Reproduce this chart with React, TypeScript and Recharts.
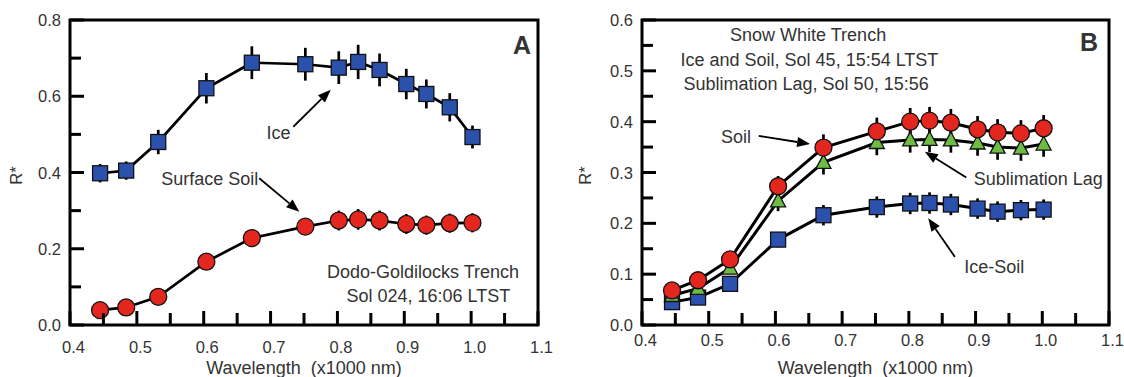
import React from 'react';
import {
  ComposedChart,
  Line,
  XAxis,
  YAxis,
  ErrorBar,
  ReferenceLine,
  ReferenceDot,
} from 'recharts';

// filter wavelengths (x1000 nm), shared by both panels
const wavelengths = [0.445, 0.484, 0.532, 0.604, 0.672, 0.752, 0.802, 0.831, 0.863, 0.903, 0.933, 0.968, 1.002];

// panel A - Dodo-Goldilocks
const iceA = [0.398, 0.405, 0.48, 0.621, 0.688, 0.684, 0.675, 0.69, 0.669, 0.632, 0.606, 0.571, 0.493];
const iceAErr = [0.024, 0.024, 0.032, 0.04, 0.043, 0.043, 0.043, 0.045, 0.043, 0.04, 0.038, 0.037, 0.03];
const soilA = [0.039, 0.046, 0.074, 0.166, 0.228, 0.258, 0.274, 0.277, 0.274, 0.265, 0.262, 0.267, 0.268];
const soilAErr = [0.01, 0.01, 0.012, 0.015, 0.018, 0.022, 0.026, 0.027, 0.026, 0.026, 0.025, 0.025, 0.025];

// panel B - Snow White
const soilB = [0.068, 0.088, 0.129, 0.273, 0.349, 0.381, 0.4, 0.402, 0.398, 0.385, 0.379, 0.377, 0.387];
const soilBErr = [0.008, 0.01, 0.012, 0.02, 0.026, 0.027, 0.027, 0.027, 0.027, 0.026, 0.026, 0.026, 0.026];
const lagB = [0.058, 0.072, 0.112, 0.244, 0.32, 0.359, 0.364, 0.365, 0.364, 0.358, 0.35, 0.348, 0.356];
const lagBErr = [0.008, 0.01, 0.012, 0.02, 0.024, 0.025, 0.025, 0.025, 0.025, 0.025, 0.025, 0.025, 0.025];
const iceSoilB = [0.045, 0.054, 0.081, 0.168, 0.216, 0.232, 0.239, 0.24, 0.237, 0.229, 0.223, 0.226, 0.227];
const iceSoilBErr = [0.005, 0.007, 0.01, 0.015, 0.02, 0.021, 0.021, 0.021, 0.021, 0.02, 0.02, 0.02, 0.02];

const xTicks = [0.4, 0.45, 0.5, 0.55, 0.6, 0.65, 0.7, 0.75, 0.8, 0.85, 0.9, 0.95, 1.0, 1.05, 1.1];
const xLabels = [0.4, 0.5, 0.6, 0.7, 0.8, 0.9, 1.0, 1.1];
const yTicksA = [0, 0.1, 0.2, 0.3, 0.4, 0.5, 0.6, 0.7, 0.8];
const yLabelsA = [0, 0.2, 0.4, 0.6, 0.8];
const yTicksB = [0, 0.05, 0.1, 0.15, 0.2, 0.25, 0.3, 0.35, 0.4, 0.45, 0.5, 0.55, 0.6];
const yLabelsB = [0, 0.1, 0.2, 0.3, 0.4, 0.5, 0.6];

// annotation text [x, y, text]
const notesA: [number, number, string][] = [
  [0.712, 0.503, 'Ice'],
  [0.609, 0.382, 'Surface Soil'],
  [0.928, 0.14, 'Dodo-Goldilocks Trench'],
  [0.936, 0.077, 'Sol 024, 16:06 LTST'],
];
const notesB: [number, number, string][] = [
  [0.649, 0.57, 'Snow White Trench'],
  [0.651, 0.521, 'Ice and Soil, Sol 45, 15:54 LTST'],
  [0.646, 0.475, 'Sublimation Lag, Sol 50, 15:56'],
  [0.541, 0.369, 'Soil'],
  [0.994, 0.287, 'Sublimation Lag'],
  [0.928, 0.114, 'Ice-Soil'],
];
// arrows [x1, y1, x2(head), y2(head)]
const arrowsA: number[][] = [
  [0.734, 0.52, 0.79, 0.617],
  [0.683, 0.385, 0.743, 0.297],
];
const arrowsB: number[][] = [
  [0.575, 0.372, 0.652, 0.356],
  [0.886, 0.29, 0.824, 0.341],
  [0.869, 0.134, 0.829, 0.21],
];

const dataA = wavelengths.map((w, i) => ({
  w,
  ice: iceA[i],
  iceErr: iceAErr[i],
  soil: soilA[i],
  soilErr: soilAErr[i],
}));

const dataB = wavelengths.map((w, i) => ({
  w,
  soil: soilB[i],
  soilErr: soilBErr[i],
  lag: lagB[i],
  lagErr: lagBErr[i],
  iceSoil: iceSoilB[i],
  iceSoilErr: iceSoilBErr[i],
}));

const FONT = '"Liberation Sans", Arial, Helvetica, sans-serif';
const TEXT = '#333';
const BLUE = '#2c51ad';
const RED = '#e3261e';
const GREEN = '#6dbd45';

const CHART_H = 377;
const TOP = 20;
const X_AXIS_H = 52;

const has = (list: number[], v: number) => list.some((l) => Math.abs(l - v) < 1e-6);

// axis tick labels
const makeYTick = (labels: number[]) => (props: any) => {
  const x = Number(props.x);
  const y = Number(props.y);
  const v = props.payload.value;
  if (!has(labels, v)) return <g />;
  return (
    <text x={x - 9} y={y} textAnchor="end" dominantBaseline="central" fontFamily={FONT} fontSize={16.5} fill={TEXT}>
      {v.toFixed(1)}
    </text>
  );
};

const makeXTick = (offset: number) => (props: any) => {
  const x = Number(props.x);
  const y = Number(props.y);
  const v = props.payload.value;
  if (!has(xLabels, v)) return <g />;
  return (
    <text x={x + 3.5} y={y + offset} textAnchor="middle" dominantBaseline="central" fontFamily={FONT} fontSize={16.5} fill={TEXT}>
      {v.toFixed(1)}
    </text>
  );
};

const Square = (color: string) => (p: any) => (
  <rect key={p.index} x={p.cx - 7.5} y={p.cy - 7.5} width={15} height={15} fill={color} stroke="#111" strokeWidth={1.3} />
);
const Circle = (color: string) => (p: any) => (
  <circle key={p.index} cx={p.cx} cy={p.cy} r={8.5} fill={color} stroke="#111" strokeWidth={1.3} />
);
const Triangle = (color: string) => (p: any) => (
  <polygon
    key={p.index}
    points={`${p.cx},${p.cy - 8} ${p.cx + 7.5},${p.cy + 6} ${p.cx - 7.5},${p.cy + 6}`}
    fill={color}
    stroke="#111"
    strokeWidth={1.3}
  />
);

const Arrow = (props: any) => {
  const { x1, y1, x2, y2 } = props;
  const a = Math.atan2(y2 - y1, x2 - x1);
  const L = 13;
  const W = 5;
  const bx = x2 - L * Math.cos(a);
  const by = y2 - L * Math.sin(a);
  const pts = `${x2},${y2} ${bx + W * Math.sin(a)},${by - W * Math.cos(a)} ${bx - W * Math.sin(a)},${by + W * Math.cos(a)}`;
  return (
    <g>
      <line x1={x1} y1={y1} x2={bx} y2={by} stroke="#000" strokeWidth={1.8} />
      <polygon points={pts} fill="#000" />
    </g>
  );
};

const renderNote = (n: [number, number, string], key: string, size = 18, bold = false) => (
  <ReferenceDot
    key={key}
    x={n[0]}
    y={n[1]}
    r={0}
    shape={(p: any) => (
      <text
        x={p.cx}
        y={p.cy}
        textAnchor="middle"
        dominantBaseline="central"
        fontFamily={FONT}
        fontSize={size}
        fontWeight={bold ? 'bold' : 'normal'}
        fill={TEXT}
      >
        {n[2]}
      </text>
    )}
  />
);

const renderArrow = (a: number[], key: string) => (
  <ReferenceLine
    key={key}
    segment={[
      { x: a[0], y: a[1] },
      { x: a[2], y: a[3] },
    ]}
    shape={Arrow}
  />
);

const xTitle = (props: any) => {
  const vb = props.viewBox;
  return (
    <text x={vb.x + vb.width / 2} y={vb.y + 49} textAnchor="middle" fontFamily={FONT} fontSize={18} fill={TEXT}>
      {'Wavelength\u00a0\u00a0(x1000 nm)'}
    </text>
  );
};

const yTitle = (dx: number) => (props: any) => {
  const vb = props.viewBox;
  const cy = vb.y + vb.height / 2 + 3;
  return (
    <text
      x={vb.x + dx}
      y={cy}
      transform={`rotate(-90, ${vb.x + dx}, ${cy})`}
      textAnchor="middle"
      dominantBaseline="central"
      fontFamily={FONT}
      fontSize={16.5}
      fill={TEXT}
    >
      R*
    </text>
  );
};

// box + inward tick marks over the plot area, same geometry as the chart margins
const Frame = ({ width, left, right, yMax, yTicks, yLabels }: any) => {
  const bottom = CHART_H - X_AXIS_H;
  const plotR = width - right;
  const sx = (v: number) => left + ((v - 0.4) / 0.7) * (plotR - left);
  const sy = (v: number) => bottom - (v / yMax) * (bottom - TOP);
  return (
    <svg
      width={width}
      height={CHART_H}
      style={{ position: 'absolute', left: 0, top: 0, pointerEvents: 'none', overflow: 'visible' }}
    >
      <rect x={left} y={TOP} width={plotR - left} height={bottom - TOP} fill="none" stroke="#000" strokeWidth={3} />
      {xTicks.map((t) => (
        <line
          key={`x${t}`}
          x1={sx(t)}
          x2={sx(t)}
          y1={bottom}
          y2={bottom - (has(xLabels, t) ? 14 : 12)}
          stroke="#000"
          strokeWidth={3}
        />
      ))}
      {yTicks.map((t: number) => (
        <line
          key={`y${t}`}
          x1={left}
          x2={left + (has(yLabels, t) ? 14 : 11)}
          y1={sy(t)}
          y2={sy(t)}
          stroke="#000"
          strokeWidth={3}
        />
      ))}
    </svg>
  );
};

const PanelA = () => (
  <div style={{ position: 'relative', width: 560, height: CHART_H }}>
    <ComposedChart width={560} height={CHART_H} data={dataA} margin={{ top: TOP, right: 22, left: 0, bottom: 0 }}>
      <XAxis
        dataKey="w"
        type="number"
        domain={[0.4, 1.1]}
        ticks={xTicks}
        interval={0}
        height={X_AXIS_H}
        tickSize={0}
        tickMargin={0}
        tickLine={false}
        axisLine={false}
        tick={makeXTick(22)}
        label={{ content: xTitle }}
      />
      <YAxis
        type="number"
        domain={[0, 0.8]}
        ticks={yTicksA}
        interval={0}
        width={70}
        tickSize={0}
        tickMargin={0}
        tickLine={false}
        axisLine={false}
        tick={makeYTick(yLabelsA)}
        label={{ content: yTitle(16) }}
      />
      <Line dataKey="ice" type="linear" stroke="#000" strokeWidth={2.7} dot={Square(BLUE)} activeDot={false} isAnimationActive={false}>
        <ErrorBar dataKey="iceErr" direction="y" width={0} stroke="#000" strokeWidth={2.7} />
      </Line>
      <Line dataKey="soil" type="linear" stroke="#000" strokeWidth={2.7} dot={Circle(RED)} activeDot={false} isAnimationActive={false}>
        <ErrorBar dataKey="soilErr" direction="y" width={0} stroke="#000" strokeWidth={2.7} />
      </Line>
      {arrowsA.map((a, i) => renderArrow(a, `aa${i}`))}
      {notesA.map((n, i) => renderNote(n, `na${i}`))}
      {renderNote([1.076, 0.735, 'A'], 'labelA', 25, true)}
    </ComposedChart>
    <Frame width={560} left={70} right={22} yMax={0.8} yTicks={yTicksA} yLabels={yLabelsA} />
  </div>
);

const PanelB = () => (
  <div style={{ position: 'relative', width: 564, height: CHART_H }}>
    <ComposedChart width={564} height={CHART_H} data={dataB} margin={{ top: TOP, right: 15, left: 0, bottom: 0 }}>
      <XAxis
        dataKey="w"
        type="number"
        domain={[0.4, 1.1]}
        ticks={xTicks}
        interval={0}
        height={X_AXIS_H}
        tickSize={0}
        tickMargin={0}
        tickLine={false}
        axisLine={false}
        tick={makeXTick(15)}
        label={{ content: xTitle }}
      />
      <YAxis
        type="number"
        domain={[0, 0.6]}
        ticks={yTicksB}
        interval={0}
        width={82}
        tickSize={0}
        tickMargin={0}
        tickLine={false}
        axisLine={false}
        tick={makeYTick(yLabelsB)}
        label={{ content: yTitle(25) }}
      />
      <Line dataKey="iceSoil" type="linear" stroke="#000" strokeWidth={3} dot={Square(BLUE)} activeDot={false} isAnimationActive={false}>
        <ErrorBar dataKey="iceSoilErr" direction="y" width={0} stroke="#000" strokeWidth={2.7} />
      </Line>
      <Line dataKey="lag" type="linear" stroke="#000" strokeWidth={3} dot={Triangle(GREEN)} activeDot={false} isAnimationActive={false}>
        <ErrorBar dataKey="lagErr" direction="y" width={0} stroke="#000" strokeWidth={2.7} />
      </Line>
      <Line dataKey="soil" type="linear" stroke="#000" strokeWidth={3} dot={Circle(RED)} activeDot={false} isAnimationActive={false}>
        <ErrorBar dataKey="soilErr" direction="y" width={0} stroke="#000" strokeWidth={2.7} />
      </Line>
      {arrowsB.map((a, i) => renderArrow(a, `ab${i}`))}
      {notesB.map((n, i) => renderNote(n, `nb${i}`))}
      {renderNote([1.07, 0.557, 'B'], 'labelB', 25, true)}
    </ComposedChart>
    <Frame width={564} left={82} right={15} yMax={0.6} yTicks={yTicksB} yLabels={yLabelsB} />
  </div>
);

export default function App() {
  return (
    <div style={{ position: 'absolute', left: 0, top: 0, width: 1124, height: 377, background: '#fff', overflow: 'hidden' }}>
      <div style={{ position: 'absolute', left: 0, top: 0 }}>
        <PanelA />
      </div>
      <div style={{ position: 'absolute', left: 560, top: 0 }}>
        <PanelB />
      </div>
    </div>
  );
}
